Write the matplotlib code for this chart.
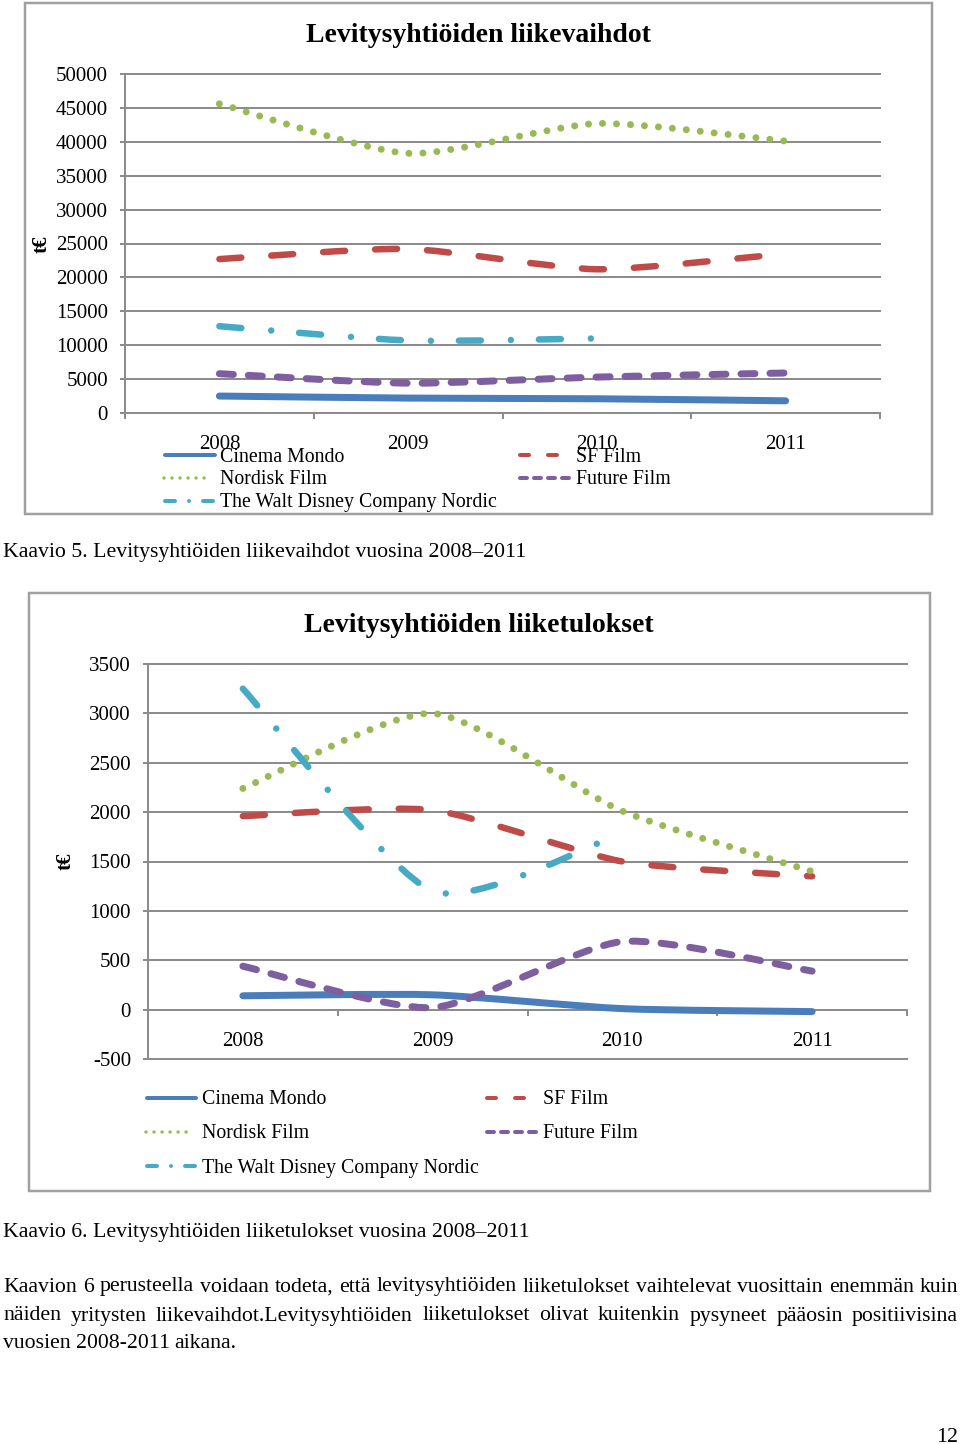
import numpy as np
import matplotlib
matplotlib.use('Agg')
import matplotlib.pyplot as plt
from matplotlib.path import Path
from matplotlib.patches import PathPatch, Rectangle
from matplotlib.lines import Line2D

plt.rcParams['font.family'] = ['Liberation Serif', 'DejaVu Serif']
plt.rcParams['lines.scale_dashes'] = False

# ---------------- data ----------------
years = ['2008', '2009', '2010', '2011']

# Liikevaihdot (t€)
lv_cinema_mondo = [2500, 2200, 2100, 1800]
lv_sf_film = [22700, 24200, 21200, 23500]
lv_nordisk_film = [45600, 38300, 42700, 40100]
lv_future_film = [5800, 4400, 5300, 5900]
lv_disney = [12800, 10700, 11000, None]

# Liiketulokset (t€)
lt_cinema_mondo = [140, 150, 10, -20]
lt_sf_film = [1960, 2020, 1500, 1350]
lt_nordisk_film = [2240, 3000, 2010, 1400]
lt_future_film = [440, 20, 690, 390]
lt_disney = [3250, 1200, 1790, None]

lv_ticks = list(range(0, 50001, 5000))
lt_ticks = list(range(-500, 3501, 500))

names = ['Cinema Mondo', 'SF Film', 'Nordisk Film', 'Future Film',
         'The Walt Disney Company Nordic']

# ---------------- styles ----------------
PX = 0.72  # points per pixel at dpi 100
GRID = '#8c8c8c'
SMOOTH = 1 / 9.0   # bezier handle factor for the smoothed lines
styles = {
    'Cinema Mondo': dict(color='#4a7ebb', lw=7 * PX, ls='-'),
    'SF Film': dict(color='#be4b48', lw=6.5 * PX, ls=(0, (22 * PX, 30 * PX))),
    'Nordisk Film': dict(color='#98b954', lw=7 * PX, ls=(0, (0.01, 14 * PX))),
    'Future Film': dict(color='#7d5fa0', lw=7 * PX, ls=(0, (14 * PX, 15 * PX))),
    'The Walt Disney Company Nordic': dict(color='#46aac5', lw=6.5 * PX,
                                           ls=(0, (22 * PX, 30 * PX, 0.01, 28 * PX))),
}

W, H = 960, 1444
fig = plt.figure(figsize=(W / 100, H / 100), dpi=100)
fig.patch.set_facecolor('white')


def rect(l, t, r, b):
    return [l / W, 1 - b / H, (r - l) / W, (b - t) / H]


def smooth_path(values):
    pts = np.array([(i, v) for i, v in enumerate(values) if v is not None], float)
    n = len(pts)
    verts = [pts[0]]
    codes = [Path.MOVETO]
    for i in range(n - 1):
        p0 = pts[i - 1] if i > 0 else pts[i]
        p1, p2 = pts[i], pts[i + 1]
        p3 = pts[i + 2] if i + 2 < n else pts[i + 1]
        verts += [p1 + (p2 - p0) * SMOOTH, p2 - (p3 - p1) * SMOOTH, p2]
        codes += [Path.CURVE4] * 3
    return Path(verts, codes)


def setup_axes(ax, ticks, ylim, zero_spine=False):
    ax.set_xlim(-0.5, 3.5)
    ax.set_ylim(*ylim)
    ax.patch.set_alpha(0)
    for s in ['top', 'right']:
        ax.spines[s].set_visible(False)
    for s in ['left', 'bottom']:
        ax.spines[s].set_color(GRID)
        ax.spines[s].set_linewidth(2 * PX)
    if zero_spine:
        ax.spines['bottom'].set_position(('data', 0))
    ax.set_yticks(ticks)
    ax.set_yticklabels([str(t) for t in ticks])
    ax.tick_params(axis='y', direction='out', length=5 * PX, width=2 * PX,
                   color=GRID, labelsize=15, pad=12 * PX)
    ax.set_xticks([-0.5, 0.5, 1.5, 2.5, 3.5])
    ax.set_xticklabels([])
    ax.set_xticks(range(len(years)), minor=True)
    ax.set_xticklabels(years, minor=True)
    ax.tick_params(axis='x', which='major', direction='out', length=6 * PX,
                   width=2 * PX, color=GRID)
    ax.tick_params(axis='x', which='minor', length=0, labelsize=15, pad=22 * PX)
    for t in ticks:
        ax.axhline(t, color=GRID, lw=2 * PX, zorder=0.5, clip_on=False)


def draw_series(ax, series):
    for name, vals in zip(names, series):
        st = styles[name]
        patch = PathPatch(smooth_path(vals), fill=False, edgecolor=st['color'],
                          lw=st['lw'], linestyle=st['ls'], capstyle='round',
                          joinstyle='round', zorder=3)
        ax.add_patch(patch)


# ---------------- chart 1 ----------------
ax1 = fig.add_axes(rect(125, 74, 880, 413))
setup_axes(ax1, lv_ticks, (0, 50000))
draw_series(ax1, [lv_cinema_mondo, lv_sf_film, lv_nordisk_film, lv_future_film, lv_disney])

# ---------------- chart 2 ----------------
ax2 = fig.add_axes(rect(148, 664, 907, 1059))
setup_axes(ax2, lt_ticks, (-500, 3500), zero_spine=True)
draw_series(ax2, [lt_cinema_mondo, lt_sf_film, lt_nordisk_film, lt_future_film, lt_disney])

# ---------------- page overlay ----------------
ov = fig.add_axes([0, 0, 1, 1], zorder=-1)
ov.set_xlim(0, W)
ov.set_ylim(H, 0)
ov.axis('off')

ov.add_patch(Rectangle((25, 3), 907, 511, fill=False, ec='#a0a0a0', lw=2.5 * PX))
ov.add_patch(Rectangle((29, 593), 901, 598, fill=False, ec='#a0a0a0', lw=2.5 * PX))

ov.text(478, 36, 'Levitysyhtiöiden liikevaihdot', fontsize=20, weight='bold',
        ha='center', va='center')
ov.text(479, 626, 'Levitysyhtiöiden liiketulokset', fontsize=20, weight='bold',
        ha='center', va='center')
ov.text(42, 244, 't€', rotation=90, fontsize=15, weight='bold', ha='center', va='center')
ov.text(66, 861, 't€', rotation=90, fontsize=15, weight='bold', ha='center', va='center')

LEG_LW = 4 * PX
legend_styles = {
    'Cinema Mondo': '-',
    'SF Film': (0, (9 * PX, 19 * PX)),
    'Nordisk Film': (0, (0.01, 8 * PX)),
    'Future Film': (0, (7 * PX, 7 * PX)),
    'The Walt Disney Company Nordic': (0, (10 * PX, 14 * PX, 0.01, 14 * PX)),
}


def legend(entries):
    for name, (x0, x1, y, tx) in entries.items():
        lw = 3.5 * PX if name == 'Nordisk Film' else LEG_LW
        ov.add_line(Line2D([x0, x1], [y, y], color=styles[name]['color'], lw=lw,
                           linestyle=legend_styles[name], solid_capstyle='round',
                           dash_capstyle='round'))
        ov.text(tx, y + 2, name, fontsize=14.3, ha='left', va='center')


legend({
    'Cinema Mondo': (165, 215, 455, 220),
    'Nordisk Film': (164, 212, 478, 220),
    'The Walt Disney Company Nordic': (165, 215, 501, 220),
    'SF Film': (520, 557, 455, 576),
    'Future Film': (520, 571, 478, 576),
})
legend({
    'Cinema Mondo': (147, 196, 1098, 202),
    'Nordisk Film': (146, 194, 1132, 202),
    'The Walt Disney Company Nordic': (147, 196, 1166, 202),
    'SF Film': (487, 524, 1098, 543),
    'Future Film': (487, 538, 1132, 543),
})

CAP = 15.7
ov.text(3, 552, 'Kaavio 5. Levitysyhtiöiden liikevaihdot vuosina 2008–2011',
        fontsize=CAP, ha='left', va='center')
ov.text(3, 1233, 'Kaavio 6. Levitysyhtiöiden liiketulokset vuosina 2008–2011',
        fontsize=CAP, ha='left', va='center')

para = [
    'Kaavion 6 perusteella voidaan todeta, että levitysyhtiöiden liiketulokset vaihtelevat vuosittain enemmän kuin',
    'näiden yritysten liikevaihdot.Levitysyhtiöiden liiketulokset olivat kuitenkin pysyneet pääosin positiivisina',
    'vuosien 2008-2011 aikana.',
]
renderer = fig.canvas.get_renderer()
line_y = [1287, 1316, 1344]
for k, (line, y) in enumerate(zip(para, line_y)):
    words = line.split(' ')
    arts = [ov.text(0, y, w, fontsize=CAP, ha='left', va='center') for w in words]
    widths = [a.get_window_extent(renderer).width for a in arts]
    if k == len(para) - 1:
        gap = 5.0
    else:
        gap = (955 - sum(widths)) / (len(words) - 1)
    x = 3
    for a, w in zip(arts, widths):
        a.set_x(x)
        x += w + gap

ov.text(958, 1437, '12', fontsize=CAP, ha='right', va='center')

fig.savefig('out.png', dpi=100, facecolor='white')
